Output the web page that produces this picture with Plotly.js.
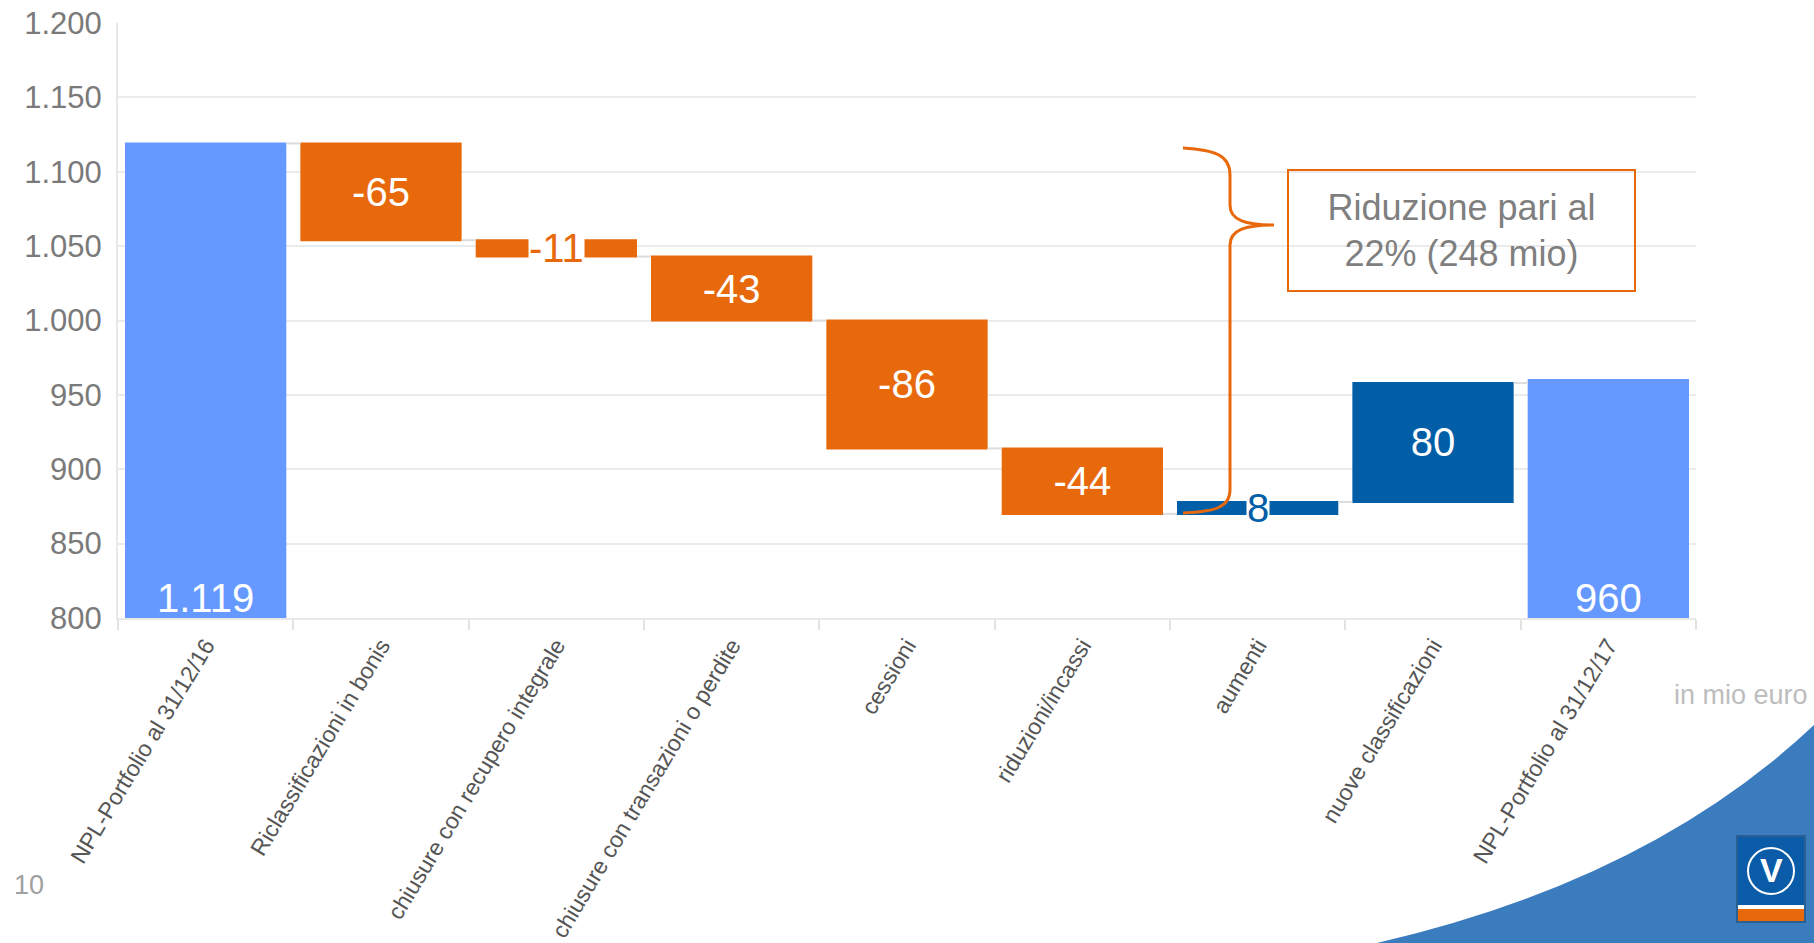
<!DOCTYPE html>
<html>
<head>
<meta charset="utf-8">
<script src="https://cdn.plot.ly/plotly-3.0.1.min.js"></script>
<style>
  html, body { margin: 0; padding: 0; background: #ffffff; }
  #chart { width: 1814px; height: 943px; }
</style>
</head>
<body>
<div id="chart"></div>
<script>
// ---- data ----
const categories = [
  "NPL-Portfolio al 31/12/16",
  "Riclassificazioni in bonis",
  "chiusure con recupero integrale",
  "chiusure con transazioni o perdite",
  "cessioni",
  "riduzioni/incassi",
  "aumenti",
  "nuove classificazioni",
  "NPL-Portfolio al 31/12/17"
];
const values = [1119, -65, -11, -43, -86, -44, 8, 80, 960];
const measures = ["absolute", "relative", "relative", "relative", "relative", "relative", "relative", "relative", "absolute"];
const labels = ["1.119", "-65", "-11", "-43", "-86", "-44", "8", "80", "960"];
const yTickMin = 800, yTickMax = 1200, yTickStep = 50;
const boxText = "Riduzione pari al<br>22% (248 mio)";
const unitText = "in mio euro";
const pageNumber = "10";

// ---- colours ----
const cTotal = "#6699ff";
const cDown = "#e8690c";
const cUp = "#035ea8";

// ---- running levels (for label placement) ----
const ends = [], starts = [];
let run = 0;
values.forEach((v, i) => {
  if (measures[i] === "absolute") { starts.push(0); run = v; }
  else { starts.push(run); run += v; }
  ends.push(run);
});

// inside labels only for the big relative bars
const textpos = values.map((v, i) =>
  (measures[i] === "absolute" || Math.abs(v) < 20) ? "none" : "inside");

// ---- pixel helpers for decorative items ----
const L = 118, R = 1696, T = 23, B = 618;
const xp = px => (px - L) / (R - L);
const yp = py => (B - py) / (B - T);

const trace = {
  type: "waterfall",
  x: categories,
  y: values,
  measure: measures,
  text: labels,
  textposition: textpos,
  insidetextanchor: "middle",
  insidetextfont: { color: "#ffffff", size: 40, family: "Liberation Sans, Arial, sans-serif" },
  constraintext: "none",
  increasing: { marker: { color: cUp } },
  decreasing: { marker: { color: cDown } },
  totals: { marker: { color: cTotal } },
  connector: { line: { color: "#dcdcdc", width: 2 } },
  hoverinfo: "x+y"
};

const annotations = [];
values.forEach((v, i) => {
  if (measures[i] === "absolute") {
    annotations.push({
      x: categories[i], y: yTickMin, xref: "x", yref: "y",
      xanchor: "center", yanchor: "bottom", text: labels[i], showarrow: false,
      font: { color: "#ffffff", size: 40 }, yshift: -4
    });
  } else if (Math.abs(v) < 20) {
    annotations.push({
      x: categories[i], y: (starts[i] + ends[i]) / 2, xref: "x", yref: "y",
      xanchor: "center", yanchor: "middle",
      text: labels[i], showarrow: false, bgcolor: "#ffffff", borderpad: 0,
      font: { color: v < 0 ? cDown : cUp, size: 40 }
    });
  }
});
annotations.push({
  xref: "paper", yref: "paper", x: xp(1461), y: yp(230),
  xanchor: "center", yanchor: "middle",
  text: boxText, showarrow: false,
  font: { color: "#7f7f7f", size: 36 },
  bordercolor: cDown, borderwidth: 2, borderpad: 0,
  width: 345, height: 119, align: "center", bgcolor: "rgba(255,255,255,0)"
});
annotations.push({
  xref: "paper", yref: "paper", x: xp(1810), y: yp(695),
  xanchor: "right", yanchor: "middle",
  text: unitText, showarrow: false, font: { color: "#bdbdbd", size: 27 }
});
annotations.push({
  xref: "paper", yref: "paper", x: xp(12), y: yp(885),
  xanchor: "left", yanchor: "middle",
  text: pageNumber, showarrow: false, font: { color: "#a0a0a0", size: 27 }
});
annotations.push({
  xref: "paper", yref: "paper", x: xp(1771), y: yp(870),
  xanchor: "center", yanchor: "middle",
  text: "<b>V</b>", showarrow: false, font: { color: "#ffffff", size: 34 }
});

function P(px, py) { return xp(px) + "," + yp(py); }
const bracePath =
  "M" + P(1183, 148) +
  " C" + P(1215, 150) + " " + P(1230, 155) + " " + P(1230, 175) +
  " L" + P(1230, 205) +
  " C" + P(1230, 220) + " " + P(1245, 225) + " " + P(1274, 225) +
  " C" + P(1245, 225) + " " + P(1230, 230) + " " + P(1230, 245) +
  " L" + P(1230, 490) +
  " C" + P(1230, 507) + " " + P(1215, 512) + " " + P(1183, 513);

const swooshPath =
  "M" + P(1377, 943) + " Q" + P(1650, 880) + " " + P(1814, 725) +
  " L" + P(1814, 943) + " Z";

const shapes = [
  { type: "path", xref: "paper", yref: "paper", path: swooshPath,
    fillcolor: "#3a7cbd", line: { width: 0 }, layer: "below" },
  { type: "path", xref: "paper", yref: "paper", path: bracePath,
    line: { color: cDown, width: 3 } },
  // logo
  { type: "rect", xref: "paper", yref: "paper",
    x0: xp(1736), x1: xp(1806), y0: yp(923), y1: yp(835),
    fillcolor: "#2a5f92", line: { width: 0 } },
  { type: "rect", xref: "paper", yref: "paper",
    x0: xp(1738), x1: xp(1804), y0: yp(905), y1: yp(837),
    fillcolor: "#0b5ca8", line: { width: 0 } },
  { type: "rect", xref: "paper", yref: "paper",
    x0: xp(1738), x1: xp(1804), y0: yp(909), y1: yp(905),
    fillcolor: "#ffffff", line: { width: 0 } },
  { type: "rect", xref: "paper", yref: "paper",
    x0: xp(1738), x1: xp(1804), y0: yp(921), y1: yp(909),
    fillcolor: cDown, line: { width: 0 } },
  { type: "circle", xref: "paper", yref: "paper",
    x0: xp(1748), x1: xp(1794), y0: yp(894), y1: yp(848),
    line: { color: "#ffffff", width: 2 } }
];

const layout = {
  width: 1814, height: 943,
  margin: { l: L, r: 1814 - R, t: T, b: 943 - B },
  paper_bgcolor: "#ffffff", plot_bgcolor: "#ffffff",
  font: { family: "Liberation Sans, Arial, sans-serif", color: "#555555" },
  separators: ",.",
  showlegend: false,
  waterfallgap: 0.08,
  xaxis: {
    type: "category",
    tickangle: -59,
    tickfont: { size: 23, color: "#555555" },
    tickson: "boundaries",
    ticks: "outside", ticklen: 10, tickcolor: "#e3e3e3", tickwidth: 2,
    showline: true, linecolor: "#e8e8e8", linewidth: 2,
    showgrid: false, zeroline: false,
    ticklabelstandoff: 3,
    fixedrange: true
  },
  yaxis: {
    range: [yTickMin, yTickMax],
    tick0: yTickMin, dtick: yTickStep,
    tickformat: ",",
    tickfont: { size: 31, color: "#7a7a7a" },
    gridcolor: "#ebebeb", gridwidth: 2,
    showline: true, linecolor: "#e8e8e8", linewidth: 2,
    zeroline: false, ticks: "",
    ticklabelstandoff: 8,
    fixedrange: true
  },
  annotations: annotations,
  shapes: shapes
};

Plotly.newPlot("chart", [trace], layout, { displayModeBar: false, staticPlot: true });
</script>
</body>
</html>
